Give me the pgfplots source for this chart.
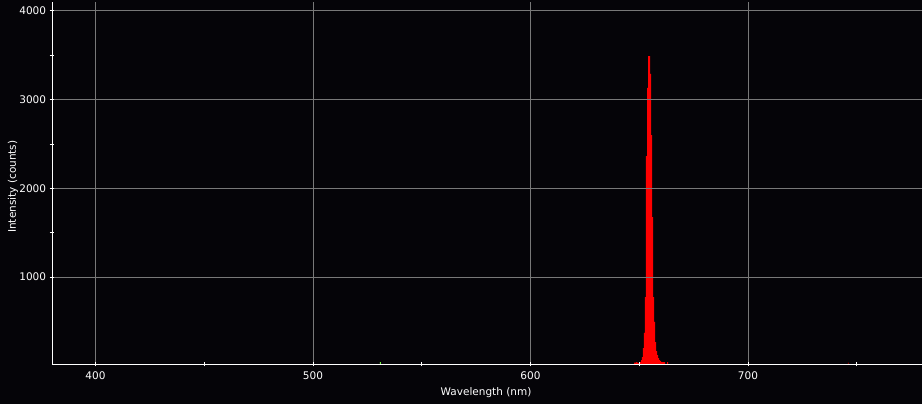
\documentclass[border=0pt]{standalone}
\usepackage{pgfplots}
\pgfplotsset{compat=1.18}
\usepackage{pgfplotstable}
\usepackage{fontspec}
\setmainfont{DejaVu Sans}
\usetikzlibrary{backgrounds}

\definecolor{bg}{RGB}{5,4,8}
\definecolor{gridgray}{RGB}{120,120,120}
\definecolor{specgreen}{RGB}{110,240,60}
\definecolor{specdark}{RGB}{130,0,0}

% H-alpha line, one row per screen column (value holds until next row)
\pgfplotstableread{
lambda  counts
647.59  35
648.05  35
648.51  42
648.97  35
649.43  30
649.89  35
650.35  42
650.81  64
651.26  98
651.72  200
652.18  370
652.64  775
653.10  2363
653.56  3131
654.02  3491
654.48  3491
654.94  3289
655.40  2600
655.86  1676
656.32  775
656.78  494
657.24  267
657.70  166
658.16  121
658.62  87
659.08  64
659.54  53
660.00  42
660.46  42
660.92  42
661.38  42
661.84  20
662.30  20
662.76  42
663.22  0
}\halpha

\pgfplotstableread{
lambda  counts
530.80  40
531.26  0
}\greenline

\pgfplotstableread{
lambda  counts
745.90  35
746.36  0
}\farred

\begin{document}
\fontsize{10.5}{12.5}\selectfont
\begin{tikzpicture}[background rectangle/.style={fill=bg},
  show background rectangle, inner frame sep=0pt]
\begin{axis}[
  scale only axis,
  width=870pt, height=362pt,
  xmin=380, xmax=780,
  ymin=20, ymax=4100,
  axis lines=left,
  axis line style={white, line width=0.8pt, -},
  axis on top=true,
  xtick={400,500,600,700},
  minor xtick={450,550,650,750},
  ytick={1000,2000,3000,4000},
  minor ytick={1500,2500,3500},
  tick align=center,
  major tick length=4.5pt,
  minor tick length=4.5pt,
  tick style={white, line width=0.8pt},
  grid=major,
  major grid style={gridgray, line width=0.8pt},
  ticklabel style={white, font=\fontsize{10.5}{12.5}\selectfont},
  /pgf/number format/assume math mode=true,
  /pgf/number format/1000 sep={},
  xticklabel style={yshift=-2pt},
  xlabel={Wavelength (nm)},
  ylabel={Intensity (counts)},
  every axis x label/.style={at={(axis description cs:0.4989,-0.0801)},
    anchor=center, white},
  every axis y label/.style={at={(axis description cs:-0.0448,0.49)},
    anchor=center, rotate=90, white},
  clip=true,
]
\addplot[draw=none, fill=red, const plot mark left] table[x=lambda, y=counts] {\halpha} \closedcycle;
\addplot[draw=none, fill=specgreen, const plot mark left] table[x=lambda, y=counts] {\greenline} \closedcycle;
\addplot[draw=none, fill=specdark, const plot mark left] table[x=lambda, y=counts] {\farred} \closedcycle;
\coordinate (bl) at (rel axis cs:0,0);
\coordinate (tr) at (rel axis cs:1,1);
\end{axis}
\pgfresetboundingbox
\path[use as bounding box] ([shift={(-52pt,-40pt)}]bl) rectangle ([shift={(0pt,2pt)}]tr);
\end{tikzpicture}
\end{document}
